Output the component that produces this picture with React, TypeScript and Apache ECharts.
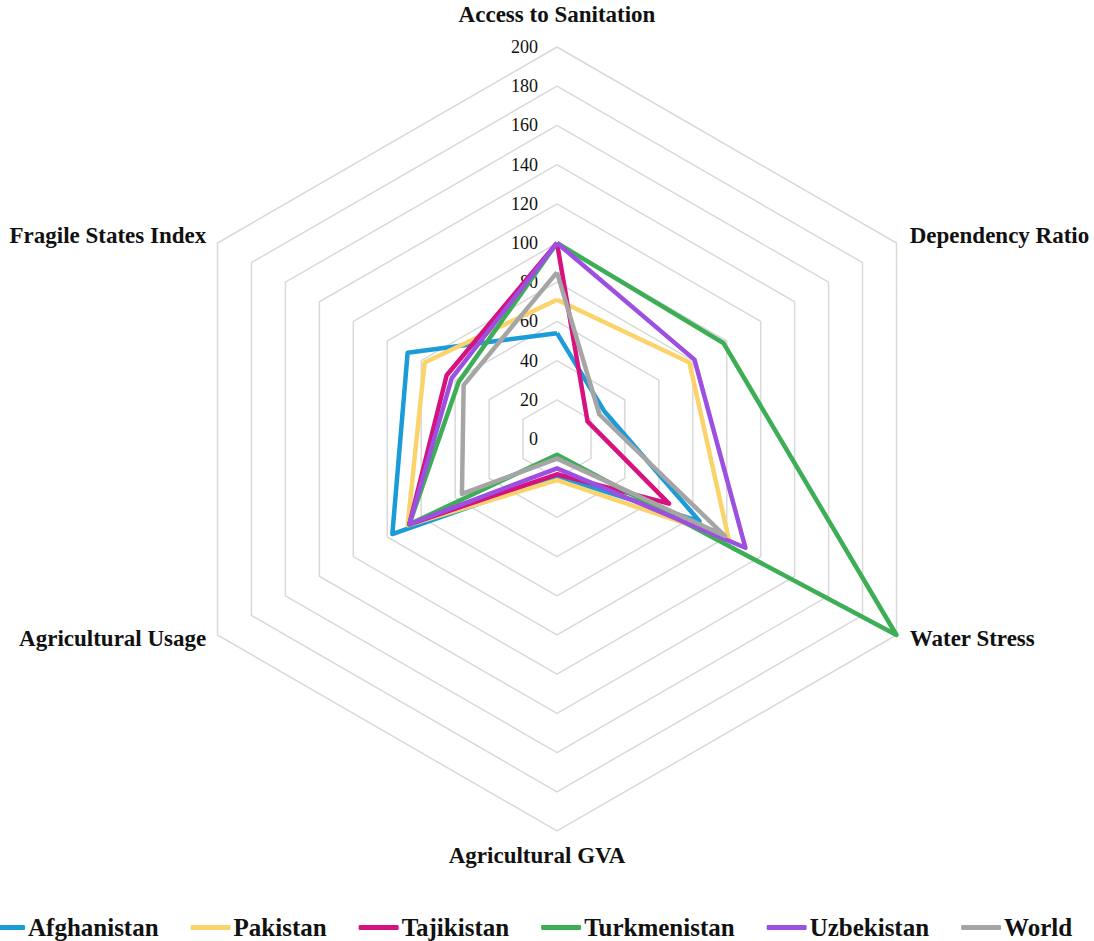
import React, { useEffect, useRef } from "react";
import * as echarts from "echarts";

// Indicators in counter-clockwise order starting from the top
const categories = [
  "Access to Sanitation",
  "Fragile States Index",
  "Agricultural Usage",
  "Agricultural GVA",
  "Water Stress",
  "Dependency Ratio",
];

const seriesNames = ["Afghanistan", "Pakistan", "Tajikistan", "Turkmenistan", "Uzbekistan", "World"];

const afghanistan = [54, 88, 97, 19, 84, 28];
const pakistan = [71, 78, 88, 21, 101, 78];
const tajikistan = [100, 65, 87, 18, 66, 18];
const turkmenistan = [100, 58, 87, 8, 200, 98];
const uzbekistan = [100, 62, 87, 15, 111, 81];
const world = [85, 55, 56, 10, 99, 25];

const colors = ["#1B9CD8", "#FAD46B", "#D6127F", "#3DAE56", "#9C4FE0", "#A5A5A5"];

const axisMin = 0;
const axisMax = 200;

const nameStyleKey: Record<string, string> = {
  "Access to Sanitation": "top",
  "Fragile States Index": "upper",
  "Dependency Ratio": "upper",
  "Agricultural Usage": "lower",
  "Water Stress": "lower",
  "Agricultural GVA": "bottom",
};

export default function App() {
  const ref = useRef<HTMLDivElement>(null);
  useEffect(() => {
    if (!ref.current) return;
    const chart = echarts.init(ref.current, undefined, { renderer: "svg" });
    const values = [afghanistan, pakistan, tajikistan, turkmenistan, uzbekistan, world];
    const base = {
      fontFamily: "Liberation Serif",
      fontWeight: "bold",
      fontSize: 23,
      color: "#111",
    };
    chart.setOption({
      animation: false,
      backgroundColor: "#ffffff",
      legend: {
        bottom: -4,
        left: -20,
        itemWidth: 40,
        itemHeight: 5,
        itemGap: 32,
        icon: "roundRect",
        textStyle: {
          fontFamily: "Liberation Serif",
          fontWeight: "bold",
          fontSize: 25,
          color: "#111",
          padding: [0, 0, 0, -2],
        },
        data: seriesNames,
      },
      radar: {
        center: [557, 439],
        radius: 392,
        shape: "polygon",
        splitNumber: 10,
        axisLine: { show: false },
        axisTick: { show: false },
        axisLabel: { show: false },
        splitArea: { show: false },
        splitLine: { lineStyle: { color: "#d9d9d9", width: 1.5 } },
        nameGap: 13,
        axisName: {
          ...base,
          formatter: (name: string) => "{" + nameStyleKey[name] + "|" + name + "}",
          rich: {
            top: { ...base, padding: [0, 0, 8, 0] },
            upper: { ...base, padding: [0, 0, 2, 2] },
            lower: { ...base, padding: [0, 0, 6, 2] },
            bottom: { ...base, padding: [0, 40, 0, 0] },
          },
        },
        indicator: categories.map((c, i) => ({
          name: c,
          min: axisMin,
          max: axisMax,
          ...(i === 0
            ? {
                axisLabel: {
                  show: true,
                  color: "#111",
                  fontFamily: "Liberation Serif",
                  fontSize: 18,
                  margin: 19,
                  showMinLabel: true,
                  showMaxLabel: true,
                },
              }
            : {}),
        })),
      },
      series: [
        {
          type: "radar",
          symbol: "none",
          data: seriesNames.map((n, i) => ({
            name: n,
            value: values[i],
            lineStyle: { color: colors[i], width: 4.5 },
            itemStyle: { color: colors[i] },
          })),
        },
      ],
    });
    return () => chart.dispose();
  }, []);
  return (
    <div
      ref={ref}
      style={{ position: "fixed", left: 0, top: 0, width: 1094, height: 941 }}
    />
  );
}
